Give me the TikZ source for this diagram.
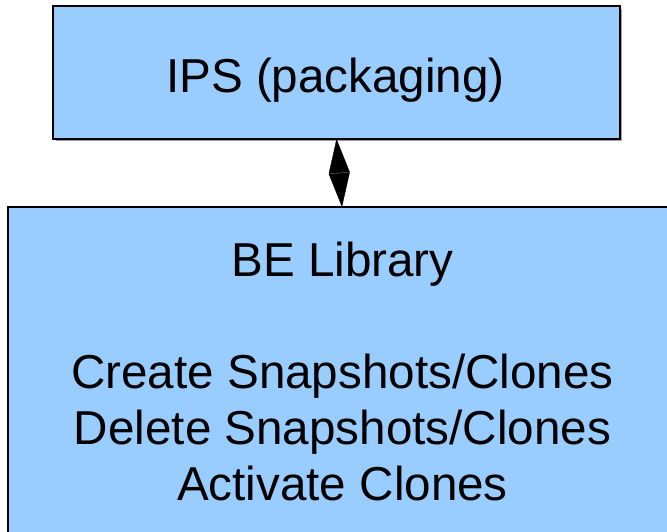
\documentclass[tikz,border=0pt]{standalone}
\usepackage{fontspec}
\setmainfont{Liberation Sans}
\usetikzlibrary{arrows.meta}
\definecolor{boxblue}{HTML}{99CCFF}
\definecolor{shadowgrey}{HTML}{A0A0A0}
\tikzset{
  box/.style={draw=black, line width=1.3pt, fill=boxblue, inner sep=0pt, outer sep=0pt},
  shadowbox/.style={fill=shadowgrey, draw=none},
  lbl/.style={anchor=base, inner sep=0pt, font=\fontsize{47.6}{56}\selectfont},
  link/.style={line width=0.4pt, {Triangle[length=34pt,width=21pt]}-{Triangle[length=34pt,width=21pt]}}
}
\begin{document}
\begin{tikzpicture}[x=1pt,y=-1pt]
\useasboundingbox (0,0) rectangle (667,531);
\clip (0,0) rectangle (667,531);
% shadows
\fill[shadowgrey] (55.5,8.5) rectangle (622,141);
\fill[shadowgrey] (10.5,209.5) rectangle (680,545);
% boxes
\node[box, minimum width=567pt, minimum height=133pt] (ips) at (336.5,72.5) {};
\node[box, minimum width=668pt, minimum height=334pt] (be) at (342,374) {};
% texts
\node[lbl] (t1) at (335.5,92) {IPS (packaging)};
\node[lbl] (t2) at (342.5,276) {BE Library};
\node[lbl] (t3) at (342.5,388) {Create Snapshots/Clones};
\node[lbl] (t4) at (342.5,444) {Delete Snapshots/Clones};
\node[lbl] (t5) at (342.5,500) {Activate Clones};
% connector
\draw[link] (ips.south) -- (be.north);
\end{tikzpicture}
\end{document}
